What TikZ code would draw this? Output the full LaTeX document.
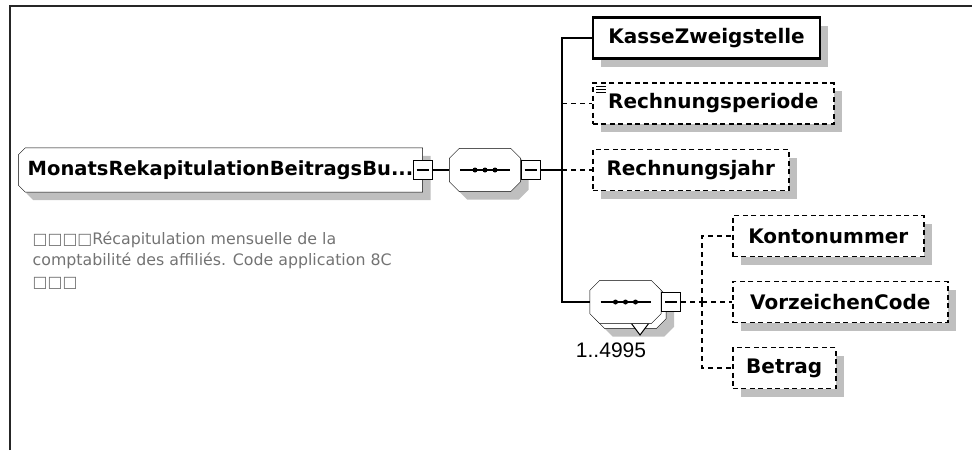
\documentclass[tikz,border=0pt]{standalone}
\usepackage{fontspec}
\setmainfont{DejaVu Sans}
\newfontfamily\cardfont{Liberation Sans}
\usetikzlibrary{shadows,backgrounds}
\colorlet{ShadeColor}{black!25}
\colorlet{NoteColor}{black!55}
\newcommand{\BoxH}{41}
% outline of a node with cut corners: node, left cut, right cut
\newcommand{\cutpath}[3]{([xshift=#2pt]#1.north west) -- ([xshift=-#3pt]#1.north east)
	-- ([yshift=-#3pt]#1.north east) -- ([yshift=#3pt]#1.south east)
	-- ([xshift=-#3pt]#1.south east) -- ([xshift=#2pt]#1.south west)
	-- ([yshift=#2pt]#1.south west) -- ([yshift=-#2pt]#1.north west) -- cycle}

\tikzset{
	shade box/.style={drop shadow={shadow xshift=8pt, shadow yshift=-8pt, fill=ShadeColor, opacity=1}},
	elem/.style={draw, fill=white, inner sep=0pt, minimum height=\BoxH pt, anchor=west,
		font=\fontsize{20}{24}\selectfont\bfseries, shade box},
	required/.style={elem, line width=2.2pt},
	optional/.style={elem, line width=1.5pt, dash pattern=on 5pt off 3.5pt},
	optdash/.style={dash pattern=on 5pt off 4pt},
	rootbox/.style={inner sep=0pt, minimum width=403pt, minimum height=43pt,
		font=\fontsize{19.5}{24}\selectfont\bfseries},
	seqbox/.style={inner sep=0pt, minimum width=70pt, minimum height=42pt},
	minus/.style={draw, fill=white, inner sep=0pt, minimum size=19pt},
	note/.style={align=left, inner sep=0pt, text=NoteColor, font=\fontsize{15.8}{21.5}\selectfont},
	card/.style={inner sep=0pt, font=\cardfont\fontsize{21}{24}\selectfont}
}

\begin{document}
\begin{tikzpicture}[x=1pt, y=-1pt, line width=1.3pt]
	\useasboundingbox (0,0) rectangle (972,450);
	% frame
	\draw[line width=1.6pt, black!85] (10,450) |- (972,6);

	% root element
	\node[rootbox] (root) at (220.5,170) {MonatsRekapitulationBeitragsBu...};
	\node[minus] (rootm) at (root.east) {};
	\node[note, anchor=north west] (rootdoc) at (32,231)
		{□□□□Récapitulation mensuelle de la\\comptabilité des affiliés. Code application 8C\\□□□};

	% first sequence
	\node[seqbox] (seqA) at (485,170) {};
	\node[minus, anchor=west] (seqAm) at (seqA.east) {};

	% its children
	\node[required, minimum width=227pt] (kasse) at (592,38) {KasseZweigstelle};
	\node[optional, minimum width=241pt] (rperiode) at (592,103.5) {Rechnungsperiode};
	\node[optional, minimum width=196pt] (rjahr) at (592,170) {Rechnungsjahr};
	\foreach \dy in {4,7,10}
		\draw[line width=1pt] ([shift={(4,\dy)}]rperiode.north west) -- ++(10,0);

	% second sequence, repeated
	\node[seqbox] (seqBback) at (630.5,307) {};
	\node[seqbox] (seqB) at (625.5,302) {};
	\node[minus, anchor=west] (seqBm) at (seqB.east) {};
	\node[card] (seqBcard) at (611,350) {1..4995};

	\node[optional, minimum width=191pt] (konto) at (732,236) {Kontonummer};
	\node[optional, minimum width=215pt] (vorz) at (732,302) {VorzeichenCode};
	\node[optional, minimum width=103pt] (betrag) at (732,368) {Betrag};

	% cut-corner outlines and their shadows
	\begin{scope}[on background layer]
		\foreach \n/\l/\r in {root/7/0, seqA/10/10, seqBback/10/10}{
			\fill[ShadeColor, transform canvas={xshift=8pt, yshift=-8pt}] \cutpath{\n}{\l}{\r};
			\filldraw[fill=white] \cutpath{\n}{\l}{\r};
		}
		\filldraw[fill=white, line width=1pt] (631,323) -- (649,323) -- (640,335) -- cycle;
		\filldraw[fill=white] \cutpath{seqB}{10}{10};
	\end{scope}

	% sequence marks
	\foreach \s in {seqA,seqB}{
		\draw ([xshift=-25pt]\s.center) -- ([xshift=25pt]\s.center);
		\foreach \d in {-10,0,10}
			\fill ([xshift=\d pt]\s.center) circle (2.5);
	}
	\foreach \m in {rootm,seqAm,seqBm}
		\draw ([xshift=4pt]\m.west) -- ([xshift=-4pt]\m.east);

	% connectors
	\coordinate (forkA) at (562,170);
	\coordinate (forkB) at (702,302);
	\draw (rootm) -- (seqA);
	\draw (seqAm) -- (forkA);
	\draw (forkA) |- (kasse.west);
	\draw (forkA) |- (seqB.west);
	\draw[optdash] (forkA |- rperiode.west) -- (rperiode.west);
	\draw[optdash] (forkA) -- (rjahr.west);
	\draw[optdash] (seqBm) -- (forkB);
	\draw[optdash] (forkB) |- (konto.west);
	\draw[optdash] (forkB) -- (vorz.west);
	\draw[optdash] (forkB) |- (betrag.west);
\end{tikzpicture}
\end{document}
